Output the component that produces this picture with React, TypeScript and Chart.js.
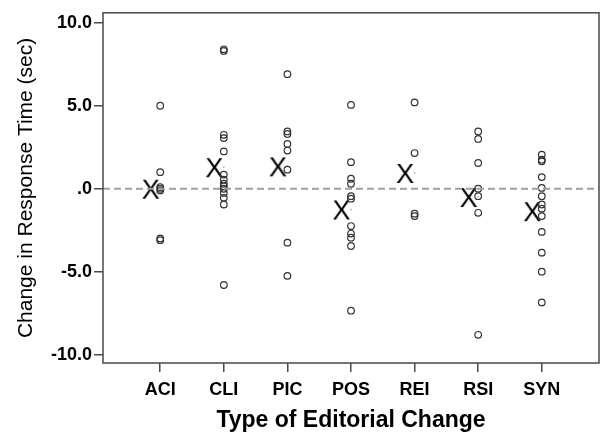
import React, { useEffect, useRef } from "react";
import { Chart, registerables } from "chart.js";

Chart.register(...registerables);

// ---- data ----
const categories = ["ACI", "CLI", "PIC", "POS", "REI", "RSI", "SYN"];
const aciValues = [5.0, 1.0, 0.1, 0.0, -0.1, -3.0, -3.1];
const cliValues = [8.4, 8.3, 3.25, 3.05, 2.25, 0.85, 0.55, 0.3, 0.15, 0.0, -0.25, -0.55, -0.95, -5.8];
const picValues = [6.9, 3.45, 3.3, 2.7, 2.3, 1.15, -3.25, -5.25];
const posValues = [5.05, 1.6, 0.6, 0.3, -0.45, -0.6, -2.25, -2.7, -2.95, -3.45, -7.35];
const reiValues = [5.2, 2.15, -1.5, -1.65];
const rsiValues = [3.45, 3.0, 1.55, 0.0, -0.45, -1.45, -8.8];
const synValues = [2.05, 1.75, 1.65, 0.7, 0.05, -0.45, -0.95, -1.2, -1.65, -2.6, -3.85, -5.0, -6.85];
const meanValues = [0.0, 1.3, 1.35, -1.25, 0.95, -0.5, -1.35];
const yTickValues = [-10, -5, 0, 5, 10];
const yTickLabels = ["-10.0", "-5.0", ".0", "5.0", "10.0"];
const referenceLine = 0;

const seriesByCategory = [aciValues, cliValues, picValues, posValues, reiValues, rsiValues, synValues];

const FONT = "'Liberation Sans', Arial, sans-serif";

function makeXMark(): HTMLCanvasElement {
  const c = document.createElement("canvas");
  c.width = 44;
  c.height = 32;
  const ctx = c.getContext("2d");
  if (ctx) {
    ctx.fillStyle = "#000";
    ctx.font = `27px ${FONT}`;
    ctx.textAlign = "center";
    ctx.textBaseline = "alphabetic";
    ctx.fillText("X", 22 - 9.5, 16 + 9.6);
  }
  return c;
}

const framePlugin = {
  id: "frame",
  afterDatasetsDraw(chart: any) {
    const { ctx, chartArea } = chart;
    ctx.save();
    ctx.strokeStyle = "#4a4a4a";
    ctx.lineWidth = 1.5;
    ctx.strokeRect(chartArea.left, chartArea.top, chartArea.right - chartArea.left, chartArea.bottom - chartArea.top);
    ctx.restore();
  },
};

export default function App() {
  const canvasRef = useRef<HTMLCanvasElement | null>(null);

  useEffect(() => {
    if (!canvasRef.current) return;
    const xMark = makeXMark();
    const xMin = -0.9;
    const xMax = 6.9;

    const pointSets = seriesByCategory.map((vals, i) => ({
      type: "scatter" as const,
      label: categories[i],
      data: vals.map((v) => ({ x: i, y: v })),
      pointRadius: 3.3,
      pointBorderWidth: 1.2,
      borderColor: "#333",
      backgroundColor: "rgba(0,0,0,0)",
      pointHoverRadius: 3.3,
    }));

    const chart = new Chart(canvasRef.current, {
      type: "scatter",
      data: {
        datasets: [
          {
            type: "line",
            label: "zero",
            data: [
              { x: xMin, y: referenceLine },
              { x: xMax, y: referenceLine },
            ],
            borderColor: "#a0a0a0",
            borderWidth: 2,
            borderDash: [7, 4],
            pointRadius: 0,
            fill: false,
          } as any,
          ...pointSets,
          {
            type: "scatter",
            label: "mean",
            data: meanValues.map((v, i) => ({ x: i, y: v })),
            pointStyle: xMark as any,
            pointRadius: 10,
          } as any,
          {
            type: "scatter",
            label: "meanDot",
            data: meanValues.map((v, i) => ({ x: i, y: v })),
            pointRadius: 0.7,
            borderWidth: 0,
            backgroundColor: "#777",
          } as any,
        ],
      },
      options: {
        animation: false,
        responsive: false,
        maintainAspectRatio: false,
        layout: { padding: { top: 10, right: 9.5, left: 0, bottom: 0 } },
        plugins: { legend: { display: false }, tooltip: { enabled: false } },
        scales: {
          x: {
            type: "linear",
            min: xMin,
            max: xMax,
            afterBuildTicks: (scale: any) => {
              scale.ticks = categories.map((_, i) => ({ value: i }));
            },
            afterFit: (scale: any) => {
              scale.height = 71;
            },
            border: { display: false },
            grid: {
              display: true,
              drawOnChartArea: false,
              drawTicks: true,
              tickLength: 9,
              color: "#4a4a4a",
              lineWidth: 1.5,
            },
            ticks: {
              autoSkip: false,
              maxRotation: 0,
              padding: 7,
              color: "#000",
              font: { family: FONT, size: 18, weight: "bold" },
              callback: (v: any) => categories[Math.round(Number(v))] ?? "",
            },
            title: {
              display: true,
              text: "Type of Editorial Change",
              color: "#000",
              font: { family: FONT, size: 23, weight: "bold" },
              padding: { top: 0, bottom: 0 },
            },
          },
          y: {
            type: "linear",
            min: -10.5,
            max: 10.6,
            afterBuildTicks: (scale: any) => {
              scale.ticks = yTickValues.map((v) => ({ value: v }));
            },
            afterFit: (scale: any) => {
              scale.width = 103;
            },
            border: { display: false },
            grid: {
              display: true,
              drawOnChartArea: false,
              drawTicks: true,
              tickLength: 9,
              color: "#4a4a4a",
              lineWidth: 1.5,
            },
            ticks: {
              padding: 2,
              color: "#000",
              font: { family: FONT, size: 18, weight: "bold" },
              callback: (v: any) => {
                const idx = yTickValues.indexOf(Number(v));
                return idx >= 0 ? yTickLabels[idx] : "";
              },
            },
            title: {
              display: true,
              text: "Change in Response Time (sec)",
              color: "#000",
              font: { family: FONT, size: 21, weight: "normal" },
              padding: { top: 14, bottom: 0 },
            },
          },
        },
      },
      plugins: [framePlugin],
    });

    return () => chart.destroy();
  }, []);

  return (
    <div style={{ position: "fixed", left: 0, top: 0, width: 610, height: 434, background: "#fff" }}>
      <canvas ref={canvasRef} width={610} height={434} style={{ display: "block" }} />
    </div>
  );
}
